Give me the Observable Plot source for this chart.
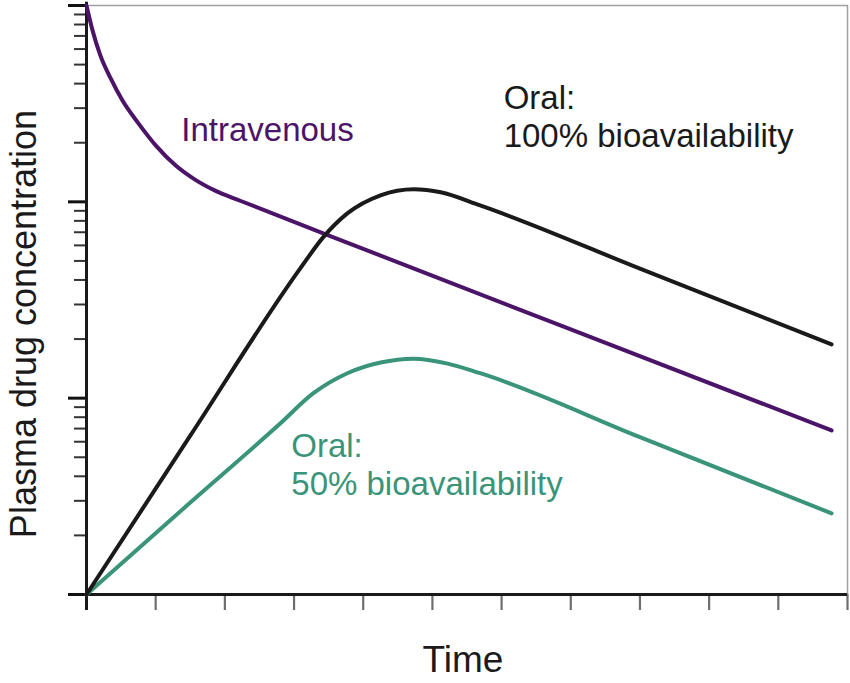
<!DOCTYPE html>
<html>
<head>
<meta charset="utf-8">
<script src="https://cdn.jsdelivr.net/npm/d3@7"></script>
<script src="https://cdn.jsdelivr.net/npm/@observablehq/plot@0.6"></script>
<style>
  html, body { margin: 0; padding: 0; background: #fff; }
  #chart svg { display: block; }
</style>
</head>
<body>
<div id="chart"></div>
<script>
// ---- data (time units, concentration on a log scale) ----
const ivTime   = [0, 0.087, 0.20, 0.35, 0.52, 0.74, 1.0, 1.29, 1.58, 1.86, 2.23, 4.0, 7.0, 10.77];
const ivConc   = [1000, 747, 557, 425, 328, 254, 194, 153, 129, 114, 101, 57.6, 22.4, 6.85];

const oral100Time = [0, 1.5, 3.09, 3.42, 3.77, 4.25, 4.73, 5.12, 5.69, 8.0, 10.77];
const oral100Conc = [1, 6.44, 45.8, 65.9, 87.3, 108, 116, 112, 95.9, 45.7, 18.8];

const oral50Time = [0, 1.5, 2.80, 3.28, 3.77, 4.25, 4.73, 5.22, 5.69, 8.0, 10.77];
const oral50Conc = [1, 2.94, 7.43, 10.6, 13.4, 15.2, 15.9, 15.0, 13.4, 6.33, 2.59];

const xTicks = [0, 1, 2, 3, 4, 5, 6, 7, 8, 9, 10, 11];
const yMajorTicks = [1, 10, 100, 1000];
const yMinorTicks = [2,3,4,5,6,7,8,9,20,30,40,50,60,70,80,90,200,300,400,500,600,700,800,900];

const labelText  = ["Intravenous", "Oral:\n100% bioavailability", "Oral:\n50% bioavailability"];
const labelTime  = [1.37, 6.03, 2.96];
const labelConc  = [231, 406, 6.85];
const labelColor = ["#4b1468", "#1a1a1a", "#3a9479"];
const labelAnchorV = ["middle", "top", "top"];

const xTitle = "Time";
const yTitle = "Plasma drug concentration";

// ---- build tables ----
const zip = (t, c) => t.map((d, i) => ({t: d, c: c[i]}));
const iv = zip(ivTime, ivConc);
const o100 = zip(oral100Time, oral100Conc);
const o50 = zip(oral50Time, oral50Conc);
const labels = labelText.map((s, i) => ({s, t: labelTime[i], c: labelConc[i], color: labelColor[i], la: labelAnchorV[i]}));

const font = "'Liberation Sans', Arial, Helvetica, sans-serif";

const chart = Plot.plot({
  width: 850,
  height: 683,
  marginLeft: 86,
  marginRight: 3,
  marginTop: 5,
  marginBottom: 89,
  style: {fontFamily: font, background: "#fff"},
  x: {domain: [0, 11], axis: null},
  y: {type: "log", domain: [1, 1000], axis: null},
  marks: [
    // light frame (top and right edges)
    Plot.frame({stroke: "#a0a0a0", strokeWidth: 1.5}),
    // x ticks
    Plot.axisX({ticks: xTicks, tickSize: 16, tickFormat: () => "", stroke: "#6e6e6e", strokeWidth: 2.2, label: null}),
    // y minor ticks
    Plot.axisY({ticks: yMinorTicks, tickSize: 12, tickFormat: () => "", stroke: "#333", strokeWidth: 2, label: null}),
    // y major ticks
    Plot.axisY({ticks: yMajorTicks, tickSize: 18, tickFormat: () => "", stroke: "#111", strokeWidth: 3, label: null}),
    // axis lines
    Plot.ruleY([1], {x1: 0, x2: 11, stroke: "#1a1a1a", strokeWidth: 3}),
    Plot.ruleX([0], {y1: 0.83, y2: 1040, stroke: "#1a1a1a", strokeWidth: 3}),
    // curves
    Plot.line(iv, {x: "t", y: "c", stroke: "#4b1468", strokeWidth: 4, curve: "monotone-x"}),
    Plot.line(o50, {x: "t", y: "c", stroke: "#3a9479", strokeWidth: 4, curve: "monotone-x"}),
    Plot.line(o100, {x: "t", y: "c", stroke: "#1a1a1a", strokeWidth: 4, curve: "monotone-x"}),
    // annotations
    Plot.text(labels.filter(d => d.la === "middle"), {x: "t", y: "c", text: "s", fill: "color", textAnchor: "start", lineAnchor: "middle", fontSize: 33}),
    Plot.text(labels.filter(d => d.la === "top"), {x: "t", y: "c", text: "s", fill: "color", textAnchor: "start", lineAnchor: "top", fontSize: 33, lineHeight: 1.15}),
    // axis titles
    Plot.text([xTitle], {frameAnchor: "bottom", dx: -4, dy: 66, lineAnchor: "middle", textAnchor: "middle", fontSize: 37, fill: "#1a1a1a"}),
    Plot.text([yTitle], {frameAnchor: "left", dx: -62, dy: 24, rotate: -90, lineAnchor: "middle", textAnchor: "middle", fontSize: 36, fill: "#1a1a1a"})
  ]
});

document.getElementById("chart").appendChild(chart);
</script>
</body>
</html>
